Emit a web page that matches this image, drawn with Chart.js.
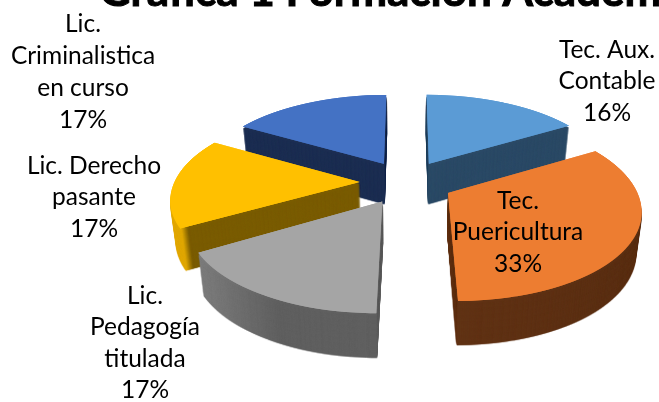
<!DOCTYPE html>
<html>
<head>
<meta charset="utf-8">
<style>html,body{margin:0;padding:0;background:#fff;overflow:hidden}#wrap{position:relative;width:659px;height:402px}</style>
<script src="https://cdn.jsdelivr.net/npm/chart.js@4/dist/chart.umd.js"></script>
</head>
<body>
<div id="wrap"><canvas id="c" width="659" height="402"></canvas></div>
<script>
const titleText = "Gráfica 1 Formación Académica";
const categories = [
  ["Tec. Aux.", "Contable"],
  ["Tec.", "Puericultura"],
  ["Lic.", "Pedagogía", "titulada"],
  ["Lic. Derecho", "pasante"],
  ["Lic.", "Criminalistica", "en curso"]
];
const shares = [16.49, 33.49, 16.67, 16.68, 16.67];
const topColors = ["#5B9BD5", "#ED7D31", "#A5A5A5", "#FFC000", "#4472C4"];
const labelAnchors = [[607, 50], [518, 201], [145, 296], [94, 166], [83, 24]];
const labelLineGaps = [31.5, 31.5, 31.5, 31.5, 32];
const paintOrder = [0, 4, 3, 2, 1];
const wallStops = [
  [[0, "#2B4A66"], [1, "#2B4A66"]],
  [[0.30, "#834B21"], [0.42, "#673616"], [1, "#5A2F13"]],
  [[0.05, "#949494"], [0.25, "#8A8A8A"], [0.42, "#606060"], [1, "#606060"]],
  [[0.24, "#E8AE00"], [0.275, "#E0A800"], [0.285, "#7A5C00"], [1, "#7A5C00"]],
  [[0, "#1C2E52"], [1, "#1C2E52"]]
];
const W = 659, H = 402;
const plane = { x0: 406.5, y0: 182, rx: 179, ry: 83, p: 0.16 };
const extrude = { depth: 41, sx: 0.975, sy: 1.028 };

function projectArc(target, arc, R, cx, cy) {
  for (let row = 0; row < H; row++) {
    const t = (row + 0.5 - plane.y0) / plane.ry;
    const s = 1 + plane.p * t;
    if (s <= 0.05) continue;
    const Z = t / s;
    const a = plane.rx * s / R, d = plane.ry * s * s / R;
    target.save();
    target.beginPath();
    target.rect(0, row, W, 1);
    target.clip();
    target.setTransform(a, 0, 0, d, plane.x0 - a * cx, row + 0.5 - d * (cy + R * Z));
    arc.draw(target);
    target.restore();
  }
}

const pie3d = {
  id: "pie3d",
  beforeDatasetDraw(chart, args) {
    const ctx = chart.ctx;
    const arcs = chart.getDatasetMeta(args.index).data;
    const R = arcs[0].outerRadius, cx = arcs[0].x, cy = arcs[0].y;
    paintOrder.forEach(i => {
      const mask = document.createElement("canvas");
      mask.width = W; mask.height = H;
      const mc = mask.getContext("2d");
      projectArc(mc, arcs[i], R, cx, cy);
      const wall = document.createElement("canvas");
      wall.width = W; wall.height = H;
      const wc = wall.getContext("2d");
      wc.drawImage(mask, 0, 0);
      wc.globalCompositeOperation = "source-in";
      const g = wc.createLinearGradient(0, 0, W, 0);
      wallStops[i].forEach(st => g.addColorStop(st[0], st[1]));
      wc.fillStyle = g;
      wc.fillRect(0, 0, W, H);
      for (let k = extrude.depth; k >= 2; k -= 0.5) {
        const f = k / extrude.depth;
        const sx = 1 + (extrude.sx - 1) * f, sy = 1 + (extrude.sy - 1) * f;
        ctx.drawImage(wall, plane.x0 * (1 - sx), plane.y0 * (1 - sy) + k, W * sx, H * sy);
      }
      ctx.drawImage(mask, 0, 0);
      ctx.drawImage(mask, 0, 0);
    });
    return false;
  },
  afterDraw(chart) {
    const ctx = chart.ctx;
    ctx.save();
    ctx.fillStyle = "#000";
    ctx.strokeStyle = "#000";
    ctx.lineWidth = 1;
    ctx.textBaseline = "alphabetic";
    ctx.textAlign = "left";
    ctx.font = "bold 44px Lato";
    ctx.fillText(titleText, 99, 6);
    ctx.strokeText(titleText, 99, 6);
    ctx.textAlign = "center";
    ctx.textBaseline = "middle";
    ctx.font = "24.5px Lato";
    categories.forEach((lines, i) => {
      const rows = lines.concat(Math.round(shares[i]) + "%");
      rows.forEach((line, j) => {
        ctx.fillText(line, labelAnchors[i][0], labelAnchors[i][1] + j * labelLineGaps[i]);
      });
    });
    ctx.restore();
  }
};

new Chart(document.getElementById("c"), {
  type: "pie",
  data: {
    labels: categories.map(l => l.join(" ")),
    datasets: [{ data: shares, backgroundColor: topColors, borderWidth: 0, offset: 138 }]
  },
  options: {
    responsive: false,
    animation: false,
    layout: { padding: 0 },
    plugins: { legend: { display: false }, tooltip: { enabled: false }, title: { display: false } }
  },
  plugins: [pie3d]
});
</script>
</body>
</html>
